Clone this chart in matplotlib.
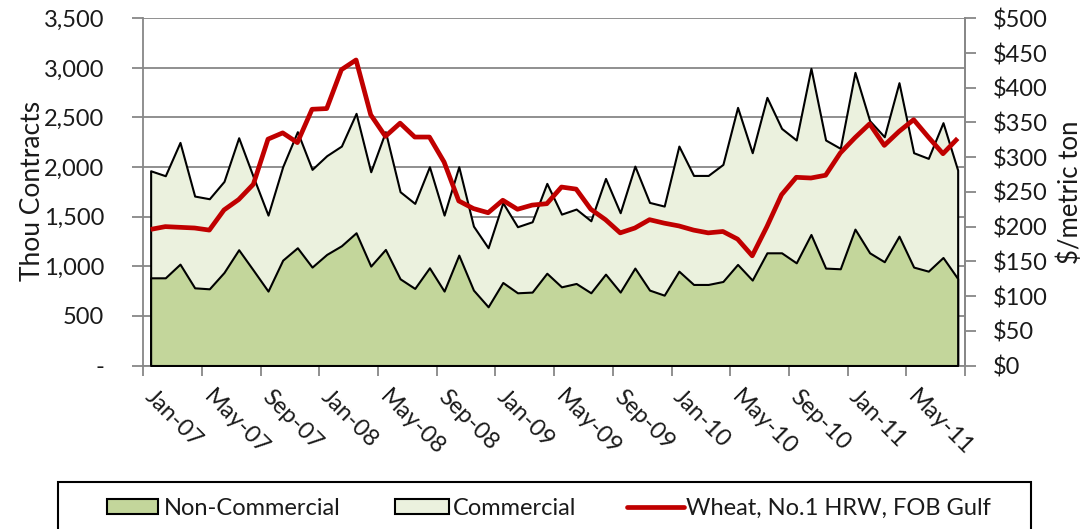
import numpy as np
import matplotlib
matplotlib.use("Agg")
import matplotlib.pyplot as plt
from matplotlib.patches import Rectangle
from matplotlib.lines import Line2D
from matplotlib.transforms import ScaledTranslation

plt.rcParams['font.family'] = ['Lato', 'DejaVu Sans']

# ---- data (monthly, Jan-07 .. Aug-11) ----
tick_labels = ['Jan-07', 'May-07', 'Sep-07', 'Jan-08', 'May-08', 'Sep-08', 'Jan-09',
               'May-09', 'Sep-09', 'Jan-10', 'May-10', 'Sep-10', 'Jan-11', 'May-11']

non_commercial = [884, 884, 1022, 783, 773, 938, 1167, 960, 750, 1062, 1187, 992, 1120, 1207,
                  1338, 1002, 1170, 874, 777, 985, 750, 1113, 760, 592, 837, 733, 740, 930,
                  793, 827, 733, 921, 740, 982, 760, 709, 951, 817, 817, 847, 1019, 861,
                  1136, 1136, 1035, 1321, 982, 975, 1375, 1136, 1046, 1304, 992, 951, 1089, 877]

commercial = [1963, 1913, 2249, 1708, 1681, 1856, 2296, 1900, 1516, 2004, 2357, 1977, 2115, 2212,
              2542, 1953, 2357, 1752, 1634, 2004, 1516, 2004, 1405, 1187, 1641, 1399, 1449, 1836,
              1526, 1577, 1459, 1886, 1540, 2010, 1644, 1607, 2212, 1916, 1916, 2027, 2602, 2145,
              2703, 2390, 2273, 2996, 2273, 2189, 2955, 2468, 2306, 2851, 2145, 2088, 2448, 1970]

wheat = [196, 200, 199, 198, 195, 224, 239, 261, 326, 335, 321, 369, 370, 426,
         440, 361, 330, 349, 329, 329, 293, 237, 226, 220, 238, 225, 231, 233,
         257, 254, 225, 210, 191, 198, 210, 205, 201, 195, 191, 193, 182, 158,
         200, 246, 271, 270, 274, 306, 328, 348, 317, 337, 354, 329, 305, 327]

W, H = 1083, 529
GREEN = '#C3D69B'
LIGHT = '#EBF1DE'
RED = '#C00000'
GRID = '#878787'
TXT = '#1a1a1a'
FS = 17

fig = plt.figure(figsize=(W / 100, H / 100), dpi=100)
L, R, T, B = 143.3, 965.0, 18.3, 365.5
ax = fig.add_axes([L / W, 1 - B / H, (R - L) / W, (B - T) / H])

x = np.arange(len(commercial))
ax.fill_between(x, commercial, 0, facecolor=LIGHT, edgecolor='black', linewidth=1.5, zorder=2)
ax.fill_between(x, non_commercial, 0, facecolor=GREEN, edgecolor='black', linewidth=1.5, zorder=3)

ax.set_xlim(-0.5, len(commercial) - 0.5)
ax.set_ylim(0, 3500)
ax.set_yticks(np.arange(0, 3501, 500))
ax.set_yticklabels(['-' if v == 0 else f'{v:,}' for v in np.arange(0, 3501, 500)])
ax.yaxis.grid(True, color=GRID, linewidth=1.3)
ax.set_axisbelow(True)

# x: tick marks between categories, labels on categories
ax.set_xticks(np.arange(-0.5, len(commercial), 4))
ax.set_xticklabels([])
ax.set_xticks(np.arange(0, len(commercial), 4), tick_labels, minor=True)
ax.tick_params(axis='x', which='major', direction='out', length=7, width=1.3, color=GRID)
ax.tick_params(axis='x', which='minor', length=0, pad=15, labelsize=FS, labelcolor=TXT)
shift = ScaledTranslation(5 / 100, 0, fig.dpi_scale_trans)
for lab in ax.get_xticklabels(minor=True):
    lab.set_rotation(-45)
    lab.set_ha('left')
    lab.set_va('top')
    lab.set_rotation_mode('anchor')
    lab.set_transform(lab.get_transform() + shift)
ax.tick_params(axis='y', direction='out', length=8, width=1.3, color=GRID, pad=20,
               labelsize=FS, labelcolor=TXT)

ax.spines['top'].set_visible(False)
for s in ['left', 'bottom', 'right']:
    ax.spines[s].set_color(GRID)
    ax.spines[s].set_linewidth(1.3)

ax2 = ax.twinx()
ax2.plot(x, wheat, color=RED, linewidth=3.4, solid_joinstyle='round', solid_capstyle='butt', zorder=5)
ax2.set_ylim(0, 500)
ax2.set_yticks(np.arange(0, 501, 50))
ax2.set_yticklabels([f'${v}' for v in np.arange(0, 501, 50)])
ax2.tick_params(axis='y', direction='out', length=8, width=1.3, color=GRID, pad=12,
                labelsize=FS, labelcolor=TXT)
for s in ['top', 'left', 'bottom']:
    ax2.spines[s].set_visible(False)
ax2.spines['right'].set_color(GRID)
ax2.spines['right'].set_linewidth(1.3)

fig.text(33 / W, 1 - 191 / H, 'Thou Contracts', rotation=90, ha='center', va='center',
         fontsize=19, color=TXT)
fig.text(1070 / W, 1 - 192 / H, '$/metric ton', rotation=90, ha='center', va='center',
         fontsize=18.5, color=TXT)

# legend box (extends past bottom edge)
fig.patches.append(Rectangle((58.3 / W, -0.1), (1031 - 58.3) / W, 0.1 + 1 - 481.7 / H,
                             transform=fig.transFigure, facecolor='white', edgecolor='black',
                             linewidth=1.5, zorder=1))
ly = 1 - 506.5 / H
ph = 15 / H
fig.patches.append(Rectangle((106.7 / W, ly - ph / 2), 51.6 / W, ph, transform=fig.transFigure,
                             facecolor=GREEN, edgecolor='black', linewidth=1.5, zorder=2))
fig.text(164 / W, ly, 'Non-Commercial', ha='left', va='center_baseline', fontsize=FS, color=TXT)
fig.patches.append(Rectangle((395 / W, ly - ph / 2), 54 / W, ph, transform=fig.transFigure,
                             facecolor=LIGHT, edgecolor='black', linewidth=1.5, zorder=2))
fig.text(453 / W, ly, 'Commercial', ha='left', va='center_baseline', fontsize=FS, color=TXT)
fig.lines.append(Line2D([627 / W, 684 / W], [ly, ly], transform=fig.transFigure,
                        color=RED, linewidth=3.4, solid_capstyle='round'))
fig.text(686 / W, ly, 'Wheat, No.1 HRW, FOB Gulf', ha='left', va='center_baseline', fontsize=FS,
         color=TXT)

fig.savefig('out.png', dpi=100)
